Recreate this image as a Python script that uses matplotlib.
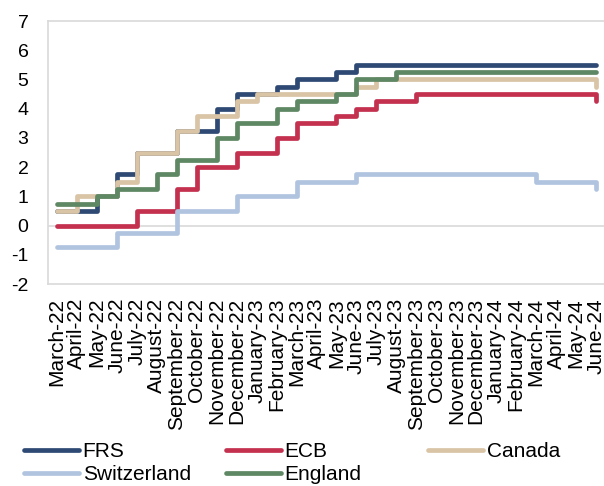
import matplotlib
matplotlib.use('Agg')
import matplotlib.pyplot as plt
import numpy as np

plt.rcParams['font.family'] = ['Liberation Sans', 'DejaVu Sans']
plt.rcParams['axes.unicode_minus'] = False

# Месяцы по оси X
months = ['March-22', 'April-22', 'May-22', 'June-22', 'July-22', 'August-22',
          'September-22', 'October-22', 'November-22', 'December-22',
          'January-23', 'February-23', 'March-23', 'April-23', 'May-23',
          'June-23', 'July-23', 'August-23', 'September-23', 'October-23',
          'November-23', 'December-23', 'January-24', 'February-24',
          'March-24', 'April-24', 'May-24', 'June-24']

# Ключевые ставки центробанков, %
frs = [0.5, 0.5, 1.0, 1.75, 2.5, 2.5, 3.25, 3.25, 4.0, 4.5, 4.5, 4.75, 5.0, 5.0,
       5.25, 5.5, 5.5, 5.5, 5.5, 5.5, 5.5, 5.5, 5.5, 5.5, 5.5, 5.5, 5.5, 5.5]
ecb = [0.0, 0.0, 0.0, 0.0, 0.5, 0.5, 1.25, 2.0, 2.0, 2.5, 2.5, 3.0, 3.5, 3.5,
       3.75, 4.0, 4.25, 4.25, 4.5, 4.5, 4.5, 4.5, 4.5, 4.5, 4.5, 4.5, 4.5, 4.25]
canada = [0.5, 1.0, 1.0, 1.5, 2.5, 2.5, 3.25, 3.75, 3.75, 4.25, 4.5, 4.5, 4.5, 4.5,
          4.5, 4.75, 5.0, 5.0, 5.0, 5.0, 5.0, 5.0, 5.0, 5.0, 5.0, 5.0, 5.0, 4.75]
switzerland = [-0.75, -0.75, -0.75, -0.25, -0.25, -0.25, 0.5, 0.5, 0.5, 1.0, 1.0,
               1.0, 1.5, 1.5, 1.5, 1.75, 1.75, 1.75, 1.75, 1.75, 1.75, 1.75, 1.75,
               1.75, 1.5, 1.5, 1.5, 1.25]
england = [0.75, 0.75, 1.0, 1.25, 1.25, 1.75, 2.25, 2.25, 3.0, 3.5, 3.5, 4.0, 4.25,
           4.25, 4.5, 5.0, 5.0, 5.25, 5.25, 5.25, 5.25, 5.25, 5.25, 5.25, 5.25,
           5.25, 5.25, 5.25]

series = [
    ('FRS', frs, '#2E4A74'),
    ('ECB', ecb, '#C3314F'),
    ('Canada', canada, '#D9C4A6'),
    ('Switzerland', switzerland, '#B0C4E0'),
    ('England', england, '#5E8763'),
]

fig = plt.figure(figsize=(6.04, 4.86), dpi=100)
ax = fig.add_axes([48 / 604, 1 - 284 / 486, 1 - 48 / 604, 263 / 486])

x = np.arange(len(months))
lines = {}
for name, vals, color in series:
    ln, = ax.step(x, vals, where='post', color=color, lw=3.4,
                  solid_capstyle='round', solid_joinstyle='round', label=name)
    lines[name] = ln

grid_color = '#D9D9D9'
ax.axhline(0, color=grid_color, lw=1.2, zorder=0)
for side in ['top', 'left', 'bottom']:
    ax.spines[side].set_color(grid_color)
    ax.spines[side].set_linewidth(1.2)
ax.spines['right'].set_visible(False)

ax.set_xlim(-0.45, 27.4)
ax.set_ylim(-2, 7)
ax.set_yticks(range(-2, 8))
ax.set_xticks(x)
ax.set_xticklabels(months, rotation=90, fontsize=15)
ax.tick_params(axis='x', length=0, pad=10)
ax.tick_params(axis='y', length=0, pad=14, labelsize=14)

# Легенда: три колонки одинаковой ширины
columns = [['FRS', 'Switzerland'], ['ECB', 'England'], ['Canada']]
for i, names in enumerate(columns):
    leg = fig.legend([lines[n] for n in names], names,
                     loc='upper left', bbox_to_anchor=((16 + 202 * i) / 604, 1 - 434 / 486),
                     frameon=False, fontsize=15, handlelength=2.6,
                     handletextpad=0.2, labelspacing=0.18, borderaxespad=0)

fig.savefig('out.png', dpi=100)
